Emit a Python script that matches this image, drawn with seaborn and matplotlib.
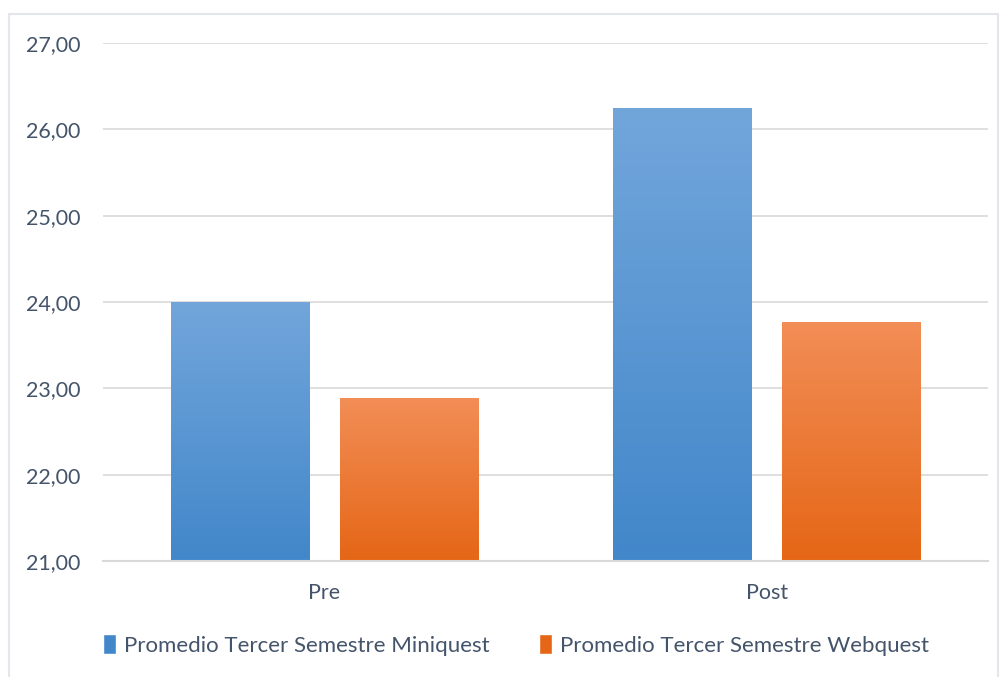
import numpy as np
import pandas as pd
import matplotlib
matplotlib.use("Agg")
import matplotlib.pyplot as plt
import matplotlib.ticker as mticker
from matplotlib.colors import LinearSegmentedColormap
from matplotlib.patches import Rectangle
import seaborn as sns

# data
momentos = ["Pre", "Post"]
grupos = ["Promedio Tercer Semestre Miniquest", "Promedio Tercer Semestre Webquest"]
miniquest = [24.00, 26.25]
webquest = [22.89, 23.77]

df = pd.DataFrame({
    "Momento": momentos * 2,
    "Grupo": [grupos[0]] * 2 + [grupos[1]] * 2,
    "Promedio": miniquest + webquest,
})

TEXT = "#44546A"
GRID = "#D9D9D9"
gradients = {
    grupos[0]: ("#72A6DB", "#4287CA"),
    grupos[1]: ("#F28E57", "#E56616"),
}

sns.set_theme(style="white")
plt.rcParams["font.family"] = ["Lato", "DejaVu Sans"]

fig = plt.figure(figsize=(10, 6.77), dpi=100)
ax = fig.add_axes([0.103, 0.1713, 0.885, 0.7652])

palette = {g: gradients[g][1] for g in grupos}
sns.barplot(data=df, x="Momento", y="Promedio", hue="Grupo", order=momentos,
            hue_order=grupos, palette=palette, width=0.764, gap=0.183,
            ax=ax, legend=False)

ax.set_ylim(21, 27)
ax.set_yticks(np.arange(21, 27.5, 1))
ax.yaxis.set_major_formatter(mticker.FuncFormatter(lambda v, p: f"{v:.2f}".replace(".", ",")))
ax.grid(axis="y", color=GRID, linewidth=1.2)
ax.set_axisbelow(True)
ax.set_xlabel("")
ax.set_ylabel("")
for s in ["top", "right", "left"]:
    ax.spines[s].set_visible(False)
ax.spines["bottom"].set_color(GRID)
ax.spines["bottom"].set_linewidth(1.5)
ax.tick_params(axis="both", length=0, labelsize=15.5, labelcolor=TEXT)
ax.tick_params(axis="x", pad=16)
ax.tick_params(axis="y", pad=16)

# vertical gradient fill on each bar
for container, g in zip(ax.containers, grupos):
    cmap = LinearSegmentedColormap.from_list(g, [gradients[g][1], gradients[g][0]])
    for bar in container:
        x0, y0 = bar.get_x(), bar.get_y()
        w, h = bar.get_width(), bar.get_height()
        img = ax.imshow(np.linspace(0, 1, 256).reshape(-1, 1), cmap=cmap, aspect="auto",
                        origin="lower", extent=[x0, x0 + w, 21, y0 + h], zorder=2)
        img.set_clip_path(bar)
        bar.set_facecolor("none")
        bar.set_edgecolor("none")
ax.set_xlim(-0.5, 1.5)
ax.set_ylim(21, 27)

# legend squares
handles = [Rectangle((0, 0), 1, 1, facecolor=gradients[g][1]) for g in grupos]
fig.legend(handles, grupos, loc="center", bbox_to_anchor=(0.516, 0.047), ncol=2,
           frameon=False, fontsize=16, labelcolor=TEXT, handlelength=0.6,
           handleheight=1.0, handletextpad=0.35, columnspacing=2.2)

# chart border
fig.patches.append(Rectangle((0.009, -0.01), 0.989, 0.989, transform=fig.transFigure,
                             fill=False, edgecolor="#E3E6EA", linewidth=1.5))

fig.savefig("out.png", dpi=100)
